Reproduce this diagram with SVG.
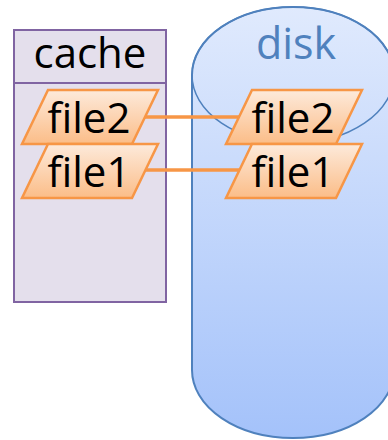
<svg xmlns="http://www.w3.org/2000/svg" width="388" height="440" viewBox="0 0 388 440">
  <defs>
    <linearGradient id="diskFill" x1="0" y1="0" x2="0" y2="1">
      <stop offset="0" stop-color="#e0eafd"/>
      <stop offset="1" stop-color="#a4c2fa"/>
    </linearGradient>
    <linearGradient id="fileFill" x1="0" y1="0" x2="0" y2="1">
      <stop offset="0" stop-color="#fdeadb"/>
      <stop offset="1" stop-color="#fbbd88"/>
    </linearGradient>
    <polygon id="fileShape" points="26,0 136,0 110,54 0,54"/>
  </defs>
  <style>
    .label { font-family: "Open Sans", "Liberation Sans", sans-serif; }
    .file { fill: url(#fileFill); stroke: #f79646; stroke-width: 2.5; stroke-linejoin: miter; }
    .fileText { font-size: 42px; fill: #000; text-anchor: middle; }
    .link { stroke: #f79646; stroke-width: 3.5; fill: none; }
  </style>

  <!-- cache container -->
  <g id="cache">
    <rect x="14" y="30" width="152" height="272" fill="#e4dfec" stroke="#8064a2" stroke-width="2"/>
    <line x1="14" y1="83" x2="166" y2="83" stroke="#8064a2" stroke-width="2"/>
    <text class="label" x="90" y="68" font-size="42" text-anchor="middle" fill="#000">cache</text>
  </g>

  <!-- disk cylinder -->
  <g id="disk">
    <path d="M192,75 L192,370 A101,68 0 0 0 394,370 L394,75 A101,68 0 0 0 192,75 Z" fill="url(#diskFill)" stroke="#4f81bd" stroke-width="2"/>
    <ellipse cx="293" cy="75" rx="101" ry="68" fill="none" stroke="#4f81bd" stroke-width="1.5"/>
    <text class="label" x="296" y="59" font-size="43" text-anchor="middle" fill="#4f81bd">disk</text>
  </g>

  <!-- connectors between cached and stored copies -->
  <g id="connectors">
    <line class="link" x1="145" y1="117" x2="239" y2="117"/>
    <line class="link" x1="145" y1="170" x2="239" y2="170"/>
  </g>

  <g id="cache-file2">
    <use href="#fileShape" class="file" x="22" y="90"/>
    <text class="label fileText" x="89" y="133">file2</text>
  </g>
  <g id="cache-file1">
    <use href="#fileShape" class="file" x="22" y="144"/>
    <text class="label fileText" x="89" y="187">file1</text>
  </g>
  <g id="disk-file2">
    <use href="#fileShape" class="file" x="226" y="90"/>
    <text class="label fileText" x="293" y="133">file2</text>
  </g>
  <g id="disk-file1">
    <use href="#fileShape" class="file" x="226" y="144"/>
    <text class="label fileText" x="293" y="187">file1</text>
  </g>
</svg>
